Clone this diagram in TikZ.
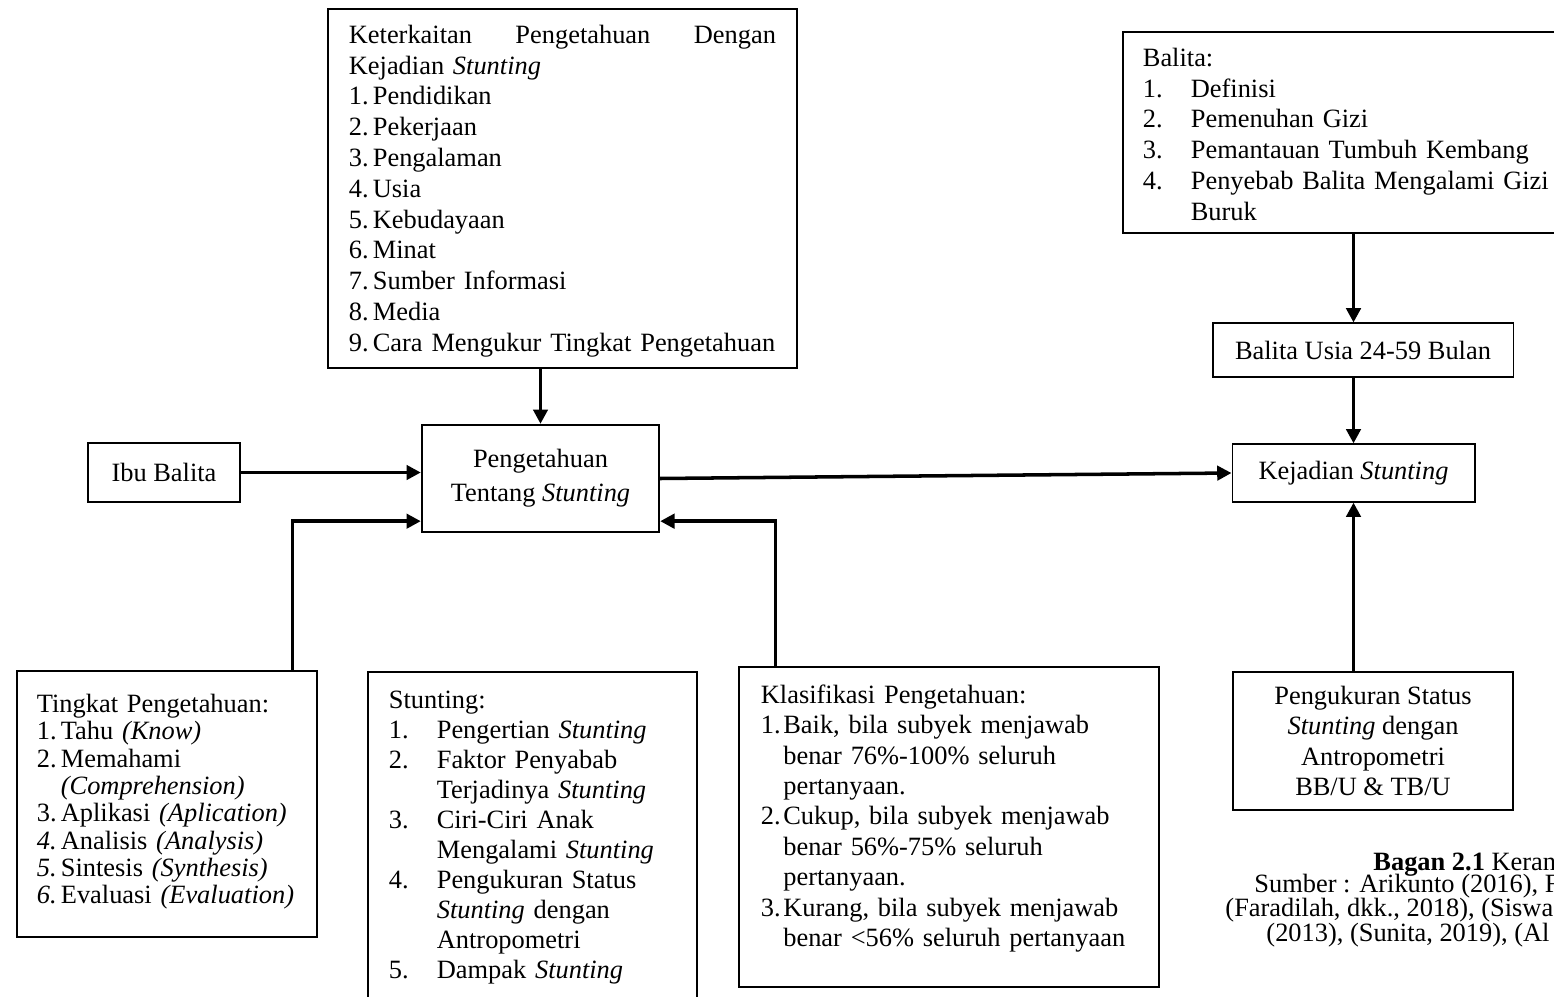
\documentclass[tikz,border=0pt]{standalone}
\usepackage{fontspec}
\setmainfont{Liberation Serif}
\usetikzlibrary{arrows.meta,fit,calc}

% nomor butir dengan lebar tetap
\newcommand{\butir}[2]{\makebox[#1][l]{#2}}

\tikzset{
  kotak/.style={draw, line width=0.5pt, inner sep=0pt},
  kotaktebal/.style={kotak, line width=1.1pt},
  isi/.style={anchor=north west, inner sep=0pt, align=left},
  panah/.style={line width=1.6pt, -{Triangle[length=6.5pt,width=6.5pt]}},
}

\begin{document}
\begin{tikzpicture}[x=0.4545pt, y=-0.4545pt, font=\fontsize{12}{14}\selectfont]
  \useasboundingbox (0,0) rectangle (1554,997);
  \clip (0,0) rectangle (1554,997);

  % kotak-kotak
  \node[kotak, fit={(328,9) (797,368)}] (kait) {};
  \node[kotak, fit={(1123,32) (1580,233)}] (balita) {};
  \node[kotak, minimum width=136.4pt, minimum height=24.5pt] (usia) at (1363,350) {Balita Usia 24-59 Bulan};
  \node[kotak, minimum width=110.4pt, minimum height=26.4pt] (kej) at (1353.5,473) {Kejadian \textit{Stunting}};
  \node[kotak, minimum width=69.1pt, minimum height=26.8pt] (ibu) at (164,472.5) {Ibu Balita};
  \node[kotaktebal, minimum width=107.7pt, minimum height=48.6pt, align=center,
        font=\fontsize{12}{15.5}\selectfont] (peng) at (540.5,478.5) {Pengetahuan\\Tentang \textit{Stunting}};
  \node[kotak, fit={(17,671) (317,937)}] (tahu) {};
  \node[kotak, fit={(368,672) (697,1004)}] (stunt) {};
  \node[kotak, fit={(739,667) (1159,987)}] (klas) {};
  \node[kotaktebal, minimum width=127.3pt, minimum height=62.7pt, align=center,
        font=\fontsize{12}{13.9}\selectfont] (ukur) at (1373,741)
        {Pengukuran Status\\\textit{Stunting} dengan\\Antropometri\\BB/U \& TB/U};

  % isi daftar
  \node[isi, text width=194.1pt] (kait-t) at ($(kait.north west)+(21,16)$) {%
    Keterkaitan\hfill Pengetahuan\hfill Dengan\\
    Kejadian \textit{Stunting}\\
    \butir{10.9pt}{1.}Pendidikan\\
    \butir{10.9pt}{2.}Pekerjaan\\
    \butir{10.9pt}{3.}Pengalaman\\
    \butir{10.9pt}{4.}Usia\\
    \butir{10.9pt}{5.}Kebudayaan\\
    \butir{10.9pt}{6.}Minat\\
    \butir{10.9pt}{7.}Sumber Informasi\\
    \butir{10.9pt}{8.}Media\\
    \butir{10.9pt}{9.}Cara Mengukur Tingkat Pengetahuan};

  \node[isi, text width=195pt] (balita-t) at ($(balita.north west)+(20,16)$) {%
    Balita:\\
    \butir{21.8pt}{1.}Definisi\\
    \butir{21.8pt}{2.}Pemenuhan Gizi\\
    \butir{21.8pt}{3.}Pemantauan Tumbuh Kembang\\
    \butir{21.8pt}{4.}Penyebab Balita Mengalami Gizi\\
    \hspace*{21.8pt}Buruk};

  \node[isi, text width=125pt, font=\fontsize{12}{12.45}\selectfont] (tahu-t)
        at ($(tahu.north west)+(20,23)$) {%
    Tingkat Pengetahuan:\\
    \butir{10.9pt}{1.}Tahu \textit{(Know)}\\
    \butir{10.9pt}{2.}Memahami\\
    \hspace*{10.9pt}\textit{(Comprehension)}\\
    \butir{10.9pt}{3.}Aplikasi \textit{(Aplication)}\\
    \butir{10.9pt}{\textit{4.}}Analisis \textit{(Analysis)}\\
    \butir{10.9pt}{\textit{5.}}Sintesis \textit{(Synthesis)}\\
    \butir{10.9pt}{\textit{6.}}Evaluasi \textit{(Evaluation)}};

  \node[isi, text width=140pt, font=\fontsize{12}{13.64}\selectfont] (stunt-t)
        at ($(stunt.north west)+(21,19)$) {%
    Stunting:\\
    \butir{21.8pt}{1.}Pengertian \textit{Stunting}\\
    \butir{21.8pt}{2.}Faktor Penyabab\\
    \hspace*{21.8pt}Terjadinya \textit{Stunting}\\
    \butir{21.8pt}{3.}Ciri-Ciri Anak\\
    \hspace*{21.8pt}Mengalami \textit{Stunting}\\
    \butir{21.8pt}{4.}Pengukuran Status\\
    \hspace*{21.8pt}\textit{Stunting} dengan\\
    \hspace*{21.8pt}Antropometri\\
    \butir{21.8pt}{5.}Dampak \textit{Stunting}};

  \node[isi, text width=180pt, font=\fontsize{12}{13.8}\selectfont] (klas-t)
        at ($(klas.north west)+(22,18)$) {%
    Klasifikasi Pengetahuan:\\
    \butir{10.2pt}{1.}Baik, bila subyek menjawab\\
    \hspace*{10.2pt}benar 76\%-100\% seluruh\\
    \hspace*{10.2pt}pertanyaan.\\
    \butir{10.2pt}{2.}Cukup, bila subyek menjawab\\
    \hspace*{10.2pt}benar 56\%-75\% seluruh\\
    \hspace*{10.2pt}pertanyaan.\\
    \butir{10.2pt}{3.}Kurang, bila subyek menjawab\\
    \hspace*{10.2pt}benar <56\% seluruh pertanyaan};

  % panah
  \draw[panah] (kait.south -| peng.north) -- (peng.north);
  \draw[panah] (ibu.east) -- (ibu.east -| peng.west);
  \draw[panah] (peng.east) -- (kej.west);
  \draw[panah] ($(tahu.north east)+(-25,0)$) |- ($(peng.south west)+(0,-12)$);
  \draw[panah] ($(klas.north west)+(37,0)$) |- ($(peng.south east)+(0,-12)$);
  \draw[panah] (balita.south -| kej.north) -- (usia.north -| kej.north);
  \draw[panah] (usia.south -| kej.north) -- (kej.north);
  \draw[panah] (ukur.north -| kej.south) -- (kej.south);

  % keterangan bagan
  \node[anchor=base west, inner sep=0pt] (cap1) at (1373,870) {\textbf{Bagan 2.1} Keran};
  \node[anchor=base west, inner sep=0pt] (cap2) at (1254,892) {Sumber : Arikunto (2016), F};
  \node[anchor=base west, inner sep=0pt] (cap3) at (1225,916) {(Faradilah, dkk., 2018), (Siswa};
  \node[anchor=base west, inner sep=0pt] (cap4) at (1266,941) {(2013), (Sunita, 2019), (Al};
\end{tikzpicture}
\end{document}
